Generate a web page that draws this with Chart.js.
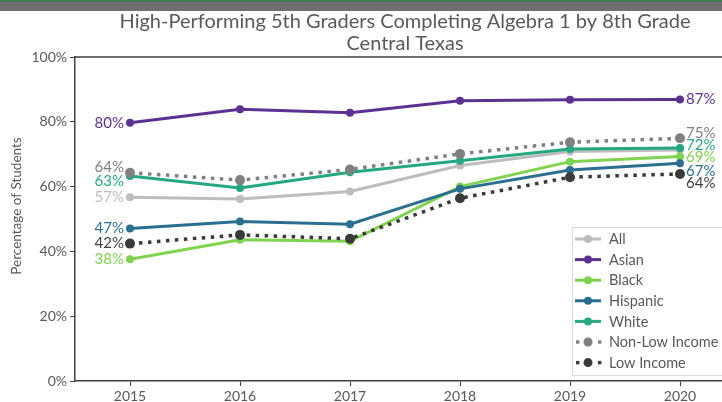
<!DOCTYPE html>
<html><head><meta charset="utf-8">
<script src="https://cdn.jsdelivr.net/npm/chart.js@4"></script>
<style>
html,body{margin:0;padding:0;overflow:hidden;background:#fff;width:722px;height:402px}
#band{position:absolute;left:0;top:0;width:722px;height:11px;background:#6f6f6f;border-top:2px solid #3f7d4e;box-sizing:border-box;z-index:2}
#wrap{position:absolute;left:0;top:0;width:760px;height:402px}
</style></head><body>
<div id="band"></div>
<div id="wrap"><canvas id="c" width="760" height="402"></canvas></div>
<script>
const years = ['2015', '2016', '2017', '2018', '2019', '2020'];
const allStudents  = [56.7, 56.2, 58.5, 66.5, 70.8, 71.3];
const asian        = [79.7, 83.9, 82.8, 86.5, 86.8, 86.9];
const black        = [37.6, 43.6, 43.1, 60.0, 67.7, 69.3];
const hispanic     = [47.1, 49.2, 48.4, 59.3, 65.1, 67.2];
const white        = [63.3, 59.6, 64.4, 68.0, 71.6, 71.9];
const nonLowIncome = [64.3, 62.0, 65.3, 70.1, 73.7, 74.9];
const lowIncome    = [42.4, 45.1, 43.9, 56.4, 62.9, 63.9];
const seriesNames  = ['All', 'Asian', 'Black', 'Hispanic', 'White', 'Non-Low Income', 'Low Income'];
const yTickValues  = [0, 20, 40, 60, 80, 100];
const titleLines   = ['High-Performing 5th Graders Completing Algebra 1 by 8th Grade', 'Central Texas'];
const yAxisTitle   = 'Percentage of Students';

const FONT = 'Lato, "Open Sans", sans-serif';
const TXT = '#595959';
const AXIS = '#404040';

// styles (kept apart from data)
const styles = [
  {color:'#bdbdbd', labelColor:'#bdbdbd', dotted:false, left:0, right:null},
  {color:'#5c3192', labelColor:'#5c3192', dotted:false, left:0, right:0},
  {color:'#7fd34e', labelColor:'#7fd34e', dotted:false, left:0, right:1},
  {color:'#2a6f90', labelColor:'#2a6f90', dotted:false, left:0, right:8},
  {color:'#25a881', labelColor:'#25a881', dotted:false, left:5, right:-3},
  {color:'#808080', labelColor:'#808080', dotted:true, left:-6, right:-5},
  {color:'#3a3a3a', labelColor:'#404040', dotted:true, left:0, right:9}
];
const seriesData = [allStudents, asian, black, hispanic, white, nonLowIncome, lowIncome];

const datasets = seriesData.map((d, i) => {
  const s = styles[i];
  return {
    label: seriesNames[i],
    data: d,
    borderColor: s.color,
    backgroundColor: s.color,
    pointBackgroundColor: s.color,
    pointBorderColor: s.color,
    pointBorderWidth: 0,
    pointRadius: s.dotted ? 5 : 4,
    borderWidth: s.dotted ? 3.5 : 3,
    borderDash: s.dotted ? [3.5, 5.5] : [],
    borderCapStyle: 'butt',
    tension: 0,
    fill: false,
    order: seriesData.length - i
  };
});

const decor = {
  id: 'decor',
  afterDatasetsDraw(chart) {
    const ctx = chart.ctx;
    const x = chart.scales.x, y = chart.scales.y;
    ctx.save();
    ctx.font = '15px ' + FONT;
    ctx.textBaseline = 'middle';
    seriesData.forEach((d, i) => {
      const s = styles[i];
      ctx.fillStyle = s.labelColor;
      if (s.left !== null) {
        ctx.textAlign = 'right';
        ctx.fillText(Math.round(d[0]) + '%', x.getPixelForValue(0) - 6, y.getPixelForValue(d[0]) + s.left);
      }
      if (s.right !== null) {
        const n = d.length - 1;
        ctx.textAlign = 'left';
        ctx.fillText(Math.round(d[n]) + '%', x.getPixelForValue(n) + 6, y.getPixelForValue(d[n]) + s.right);
      }
    });
    ctx.restore();
  },
  afterDraw(chart) {
    const ctx = chart.ctx, a = chart.chartArea;
    ctx.save();
    // top frame
    ctx.strokeStyle = AXIS; ctx.lineWidth = 1.5;
    ctx.beginPath(); ctx.moveTo(a.left, a.top); ctx.lineTo(a.right, a.top); ctx.stroke();
    // title
    ctx.fillStyle = TXT; ctx.font = '20px ' + FONT; ctx.textAlign = 'center'; ctx.textBaseline = 'middle';
    const cx = (a.left + a.right) / 2;
    ctx.fillText(titleLines[0], cx, 22);
    ctx.fillText(titleLines[1], cx, 44);
    // y title
    ctx.save();
    ctx.translate(17, 206); ctx.rotate(-Math.PI / 2);
    ctx.font = '13.5px ' + FONT; ctx.fillText(yAxisTitle, 0, 0);
    ctx.restore();
    // legend
    const lx = a.right - 163, ly = a.bottom - 154, lw = 170, lh = 148;
    ctx.fillStyle = '#fff'; ctx.strokeStyle = '#d9d9d9'; ctx.lineWidth = 1;
    ctx.beginPath(); ctx.rect(lx + 0.5, ly + 0.5, lw, lh); ctx.fill(); ctx.stroke();
    ctx.font = '14.5px ' + FONT; ctx.textAlign = 'left'; ctx.textBaseline = 'middle';
    seriesNames.forEach((name, i) => {
      const s = styles[i];
      const yy = ly + 12 + i * 20.6;
      const mx = lx + 16;
      ctx.fillStyle = s.color; ctx.strokeStyle = s.color;
      if (!s.dotted) {
        ctx.lineWidth = 3;
        ctx.beginPath(); ctx.moveTo(lx + 3, yy); ctx.lineTo(lx + 29, yy); ctx.stroke();
        ctx.beginPath(); ctx.arc(mx, yy, 4, 0, Math.PI * 2); ctx.fill();
      } else {
        ctx.fillRect(lx + 4, yy - 1.7, 3.4, 3.4);
        ctx.fillRect(lx + 26, yy - 1.7, 3.4, 3.4);
        ctx.beginPath(); ctx.arc(mx, yy, 4.5, 0, Math.PI * 2); ctx.fill();
      }
      ctx.fillStyle = TXT;
      ctx.fillText(name, lx + 37, yy + 0.5);
    });
    ctx.restore();
  }
};

new Chart(document.getElementById('c'), {
  type: 'line',
  data: { labels: years, datasets },
  options: {
    responsive: false,
    animation: false,
    devicePixelRatio: 1,
    layout: { padding: { left: 0, right: 25, top: 57, bottom: 0 } },
    plugins: { legend: { display: false }, title: { display: false }, tooltip: { enabled: false } },
    scales: {
      x: {
        type: 'category',
        offset: true,
        grid: { display: true, drawOnChartArea: false, drawTicks: true, tickLength: 5, color: AXIS, lineWidth: 1 },
        border: { display: true, color: AXIS, width: 1.5 },
        ticks: { color: TXT, font: { family: FONT, size: 14 }, padding: 2, maxRotation: 0 },
        afterFit(s) { s.height = 21; }
      },
      y: {
        min: 0, max: 100,
        afterBuildTicks(s) { s.ticks = yTickValues.map(v => ({ value: v })); },
        grid: { display: true, drawOnChartArea: false, drawTicks: true, tickLength: 5, color: AXIS, lineWidth: 1 },
        border: { display: true, color: AXIS, width: 1.5 },
        ticks: { color: TXT, font: { family: FONT, size: 14 }, padding: 3, callback: v => v + '%' },
        afterFit(s) { s.width = 75; }
      }
    }
  },
  plugins: [decor]
});
</script>
</body></html>
